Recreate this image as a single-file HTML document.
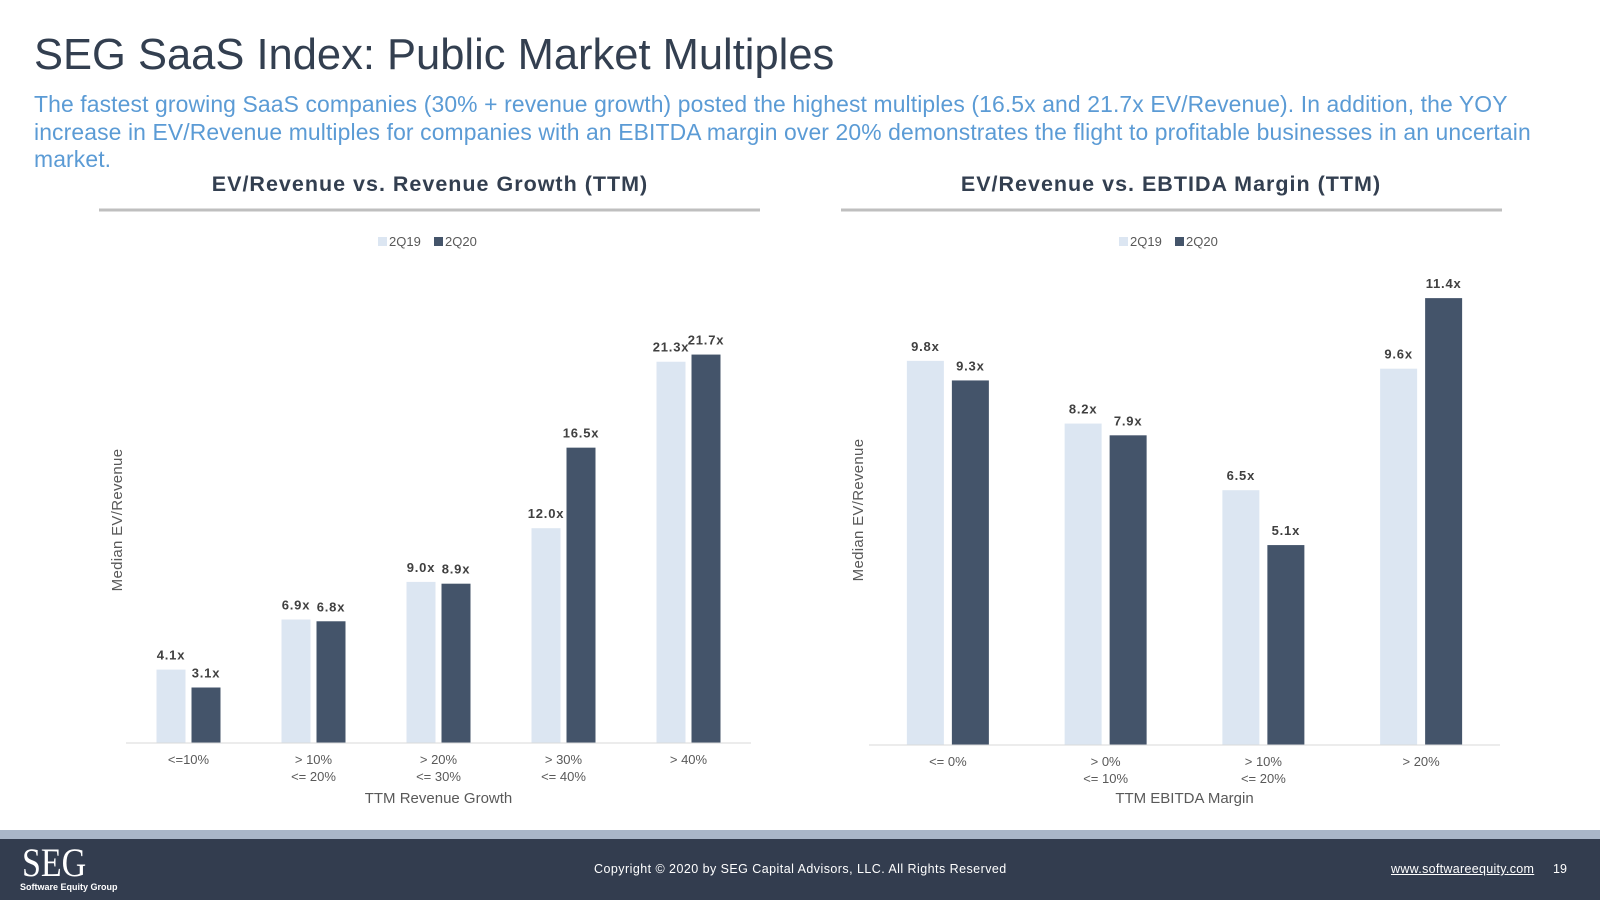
<!DOCTYPE html>
<html><head><meta charset="utf-8"><style>
body{margin:0;width:1600px;height:900px;background:#fff;font-family:"Liberation Sans",sans-serif;position:relative;overflow:hidden}
.t{position:absolute;white-space:nowrap}
</style></head><body>
<div class="t" style="left:34px;top:31px;font-size:43.5px;color:#333f50">SEG SaaS Index: Public Market Multiples</div>
<div class="t" style="left:34px;top:91px;font-size:22.9px;letter-spacing:0.12px;line-height:27.5px;color:#5b9bd5;white-space:normal;width:1515px">The fastest growing SaaS companies (30% + revenue growth) posted the highest multiples (16.5x and 21.7x EV/Revenue). In addition, the YOY increase in EV/Revenue multiples for companies with an EBITDA margin over 20% demonstrates the flight to profitable businesses in an uncertain market.</div>
<svg id="c" width="1600" height="900" style="position:absolute;left:0;top:0" font-family="Liberation Sans, sans-serif"></svg>
<div style="position:absolute;left:0;top:830px;width:1600px;height:9px;background:#a9b6c8"></div>
<div style="position:absolute;left:0;top:839px;width:1600px;height:61px;background:#333d4f"></div>
<div class="t" style="left:22px;top:845px;font-family:'Liberation Serif',serif;font-size:40px;color:#fff;line-height:36px;transform:scaleX(0.85);transform-origin:left">SEG</div>
<div class="t" style="left:20px;top:882px;font-size:9px;font-weight:bold;color:#fff">Software Equity Group</div>
<div class="t" style="left:594px;top:862px;font-size:12.5px;letter-spacing:0.45px;color:#fff">Copyright © 2020 by SEG Capital Advisors, LLC. All Rights Reserved</div>
<div class="t" style="left:1391px;top:862px;font-size:12.5px;letter-spacing:0.3px;color:#fff;text-decoration:underline">www.softwareequity.com</div>
<div class="t" style="left:1553px;top:862px;font-size:12.5px;color:#fff">19</div>
<script>
const cats1=["<=10%","> 10%|<= 20%","> 20%|<= 30%","> 30%|<= 40%","> 40%"];
const a2q19=[4.1,6.9,9.0,12.0,21.3];
const a2q20=[3.1,6.8,8.9,16.5,21.7];
const cats2=["<= 0%","> 0%|<= 10%","> 10%|<= 20%","> 20%"];
const b2q19=[9.8,8.2,6.5,9.6];
const b2q20=[9.3,7.9,5.1,11.4];
const svg=document.getElementById('c');
const NS='http://www.w3.org/2000/svg';
function el(tag,attrs,name,txt){const e=document.createElementNS(NS,tag);for(const k in attrs)e.setAttribute(k,attrs[k]);


if(txt!==undefined)e.textContent=txt;svg.appendChild(e);return e;}
function chart(o){
 el('text',{x:o.cx,y:191,'text-anchor':'middle','font-size':21.5,'font-weight':'bold','letter-spacing':1,fill:'#333f50'},o.id+'-title',o.title);
 el('line',{x1:o.lx1,x2:o.lx2,y1:210,y2:210,stroke:'#bfbfbf','stroke-width':3},o.id+'-title-rule');
 el('rect',{x:o.cx-52,y:237,width:9,height:9,fill:'#dce6f2'},o.id+'-legend-2q19-swatch');
 el('text',{x:o.cx-41,y:246,'font-size':13,fill:'#595959'},o.id+'-legend-2q19','2Q19');
 el('rect',{x:o.cx+4,y:237,width:9,height:9,fill:'#44546a'},o.id+'-legend-2q20-swatch');
 el('text',{x:o.cx+15,y:246,'font-size':13,fill:'#595959'},o.id+'-legend-2q20','2Q20');
 const y=v=>o.base-v*o.k;
 const step=(o.ax2-o.ax1)/o.cats.length;
 o.cats.forEach((c,i)=>{
  const mid=o.ax1+step*(i+0.5);
  [[o.s1[i],'#dce6f2',-1],[o.s2[i],'#44546a',1]].forEach(([v,col,s],j)=>{
   const x=s<0?mid-o.gap/2-o.bw:mid+o.gap/2;
   el('rect',{x:x,y:y(v),width:o.bw,height:o.base-y(v),fill:col},o.id+'-bar-'+(j?'2q20':'2q19')+'-'+i);
   el('text',{x:x+o.bw/2,y:y(v)-10,'text-anchor':'middle','font-size':13,'font-weight':'bold','letter-spacing':0.8,fill:'#404040'},o.id+'-label-'+(j?'2q20':'2q19')+'-'+i,v.toFixed(1)+'x');
  });
  c.split('|').forEach((t,k)=>el('text',{x:mid,y:o.base+21+k*17,'text-anchor':'middle','font-size':13,fill:'#595959'},o.id+'-x-tick-'+i,t));
 });
 el('line',{x1:o.ax1,x2:o.ax2,y1:o.base,y2:o.base,stroke:'#d9d9d9','stroke-width':1},o.id+'-x-axis');
 el('text',{x:(o.ax1+o.ax2)/2,y:803,'text-anchor':'middle','font-size':15,fill:'#595959'},o.id+'-x-axis-title',o.xt);
 el('text',{x:0,y:0,transform:`translate(${o.yx},${o.yc}) rotate(-90)`,'text-anchor':'middle','font-size':15,'letter-spacing':0.3,fill:'#595959'},o.id+'-y-axis-title','Median EV/Revenue');
}
chart({id:'growth',title:'EV/Revenue vs. Revenue Growth (TTM)',cx:430,lx1:99,lx2:760,ax1:126,ax2:751,base:743,k:17.9,bw:29,gap:6,cats:cats1,s1:a2q19,s2:a2q20,xt:'TTM Revenue Growth',yx:122,yc:520});
chart({id:'ebitda',title:'EV/Revenue vs. EBTIDA Margin (TTM)',cx:1171,lx1:841,lx2:1502,ax1:869,ax2:1500,base:745,k:39.2,bw:37,gap:8,cats:cats2,s1:b2q19,s2:b2q20,xt:'TTM EBITDA Margin',yx:863,yc:510});
</script>
</body></html>
